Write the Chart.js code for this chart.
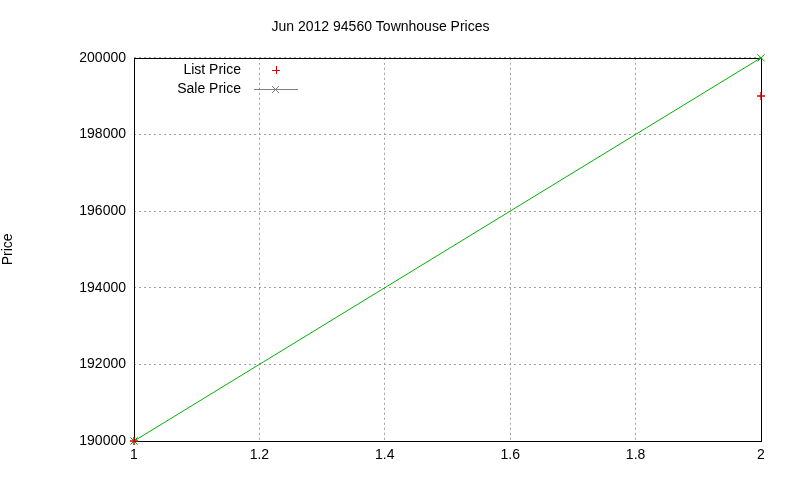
<!DOCTYPE html><html><head><meta charset="utf-8">
<script src="https://cdn.jsdelivr.net/npm/chart.js@4"></script>
<style>html,body{margin:0;background:#fff}#w{width:800px;height:480px}</style></head><body>
<div id="w"><canvas id="c" width="800" height="480"></canvas></div>
<script>
const titleText = "Jun 2012 94560 Townhouse Prices";
const xValues = [1, 2];
const listPrice = [190000, 199000];
const salePrice = [190000, 200000];
const seriesNames = ["List Price", "Sale Price"];
const yLabel = "Price";
const FONT = '"Liberation Sans", Arial, sans-serif';

const legendPlugin = {
  id: 'gpLegend',
  afterDraw(chart) {
    const ctx = chart.ctx;
    ctx.save();
    ctx.font = '14px ' + FONT;
    ctx.fillStyle = '#000';
    ctx.textAlign = 'right'; ctx.textBaseline = 'middle';
    ctx.fillText(seriesNames[0], 241, 70);
    ctx.fillText(seriesNames[1], 241, 89);
    ctx.strokeStyle = '#e00000'; ctx.lineWidth = 1;
    ctx.beginPath(); ctx.moveTo(272,70.5); ctx.lineTo(280,70.5); ctx.moveTo(276.5,66); ctx.lineTo(276.5,74); ctx.stroke();
    ctx.strokeStyle = '#808080';
    ctx.beginPath(); ctx.moveTo(254,89.5); ctx.lineTo(298,89.5);
    ctx.moveTo(272,86); ctx.lineTo(279,93); ctx.moveTo(279,86); ctx.lineTo(272,93); ctx.stroke();
    ctx.restore();
  }
};

new Chart(document.getElementById('c'), {
  type: 'line',
  data: { datasets: [
    { label: seriesNames[0], data: xValues.map((x,i)=>({x, y:listPrice[i]})), showLine:false, clip:false,
      pointStyle:'cross', pointRadius:4, borderColor:'#e00000', borderWidth:1.5, pointBorderColor:'#e00000' },
    { label: seriesNames[1], data: xValues.map((x,i)=>({x, y:salePrice[i]})), showLine:true, clip:false,
      borderColor:'#00b000', borderWidth:1, pointStyle:'crossRot', pointRadius:5, pointBorderColor:'#00a000', pointBorderWidth:1 }
  ]},
  options: {
    responsive:false, animation:false,
    layout:{padding:{left:0,right:39,top:0,bottom:0}},
    plugins:{
      legend:{display:false}, tooltip:{enabled:false},
      title:{display:true, text:titleText, color:'#000', font:{family:FONT, size:14, weight:'normal'}, padding:{top:19,bottom:22}}
    },
    scales:{
      x:{type:'linear', min:1, max:2,
        ticks:{stepSize:0.2, color:'#000', font:{family:FONT, size:14}, padding:6, callback:v=>String(Math.round(v*10)/10)},
        grid:{color:'#a0a0a0', drawTicks:false}, border:{display:false,dash:[2,3]},
        afterFit(s){s.height=39;}
      },
      y:{min:190000, max:200000,
        title:{display:true,text:yLabel,color:'#000',font:{family:FONT,size:14},padding:{top:0,bottom:64}},
        ticks:{stepSize:2000, color:'#000', font:{family:FONT, size:14}, padding:8, callback:v=>String(v)},
        grid:{color:'#a0a0a0', drawTicks:false}, border:{display:false,dash:[2,3]},
        afterFit(s){s.width=134;}
      }
    }
  },
  plugins:[legendPlugin, {
    id:'frame',
    beforeDatasetsDraw(chart){
      const {ctx, chartArea:a}=chart;
      ctx.save(); ctx.strokeStyle='#000'; ctx.lineWidth=1;
      ctx.strokeRect(Math.round(a.left)+0.5,Math.round(a.top)+0.5,Math.round(a.right-a.left),Math.round(a.bottom-a.top));
      ctx.restore();
    }
  }]
});
</script></body></html>
